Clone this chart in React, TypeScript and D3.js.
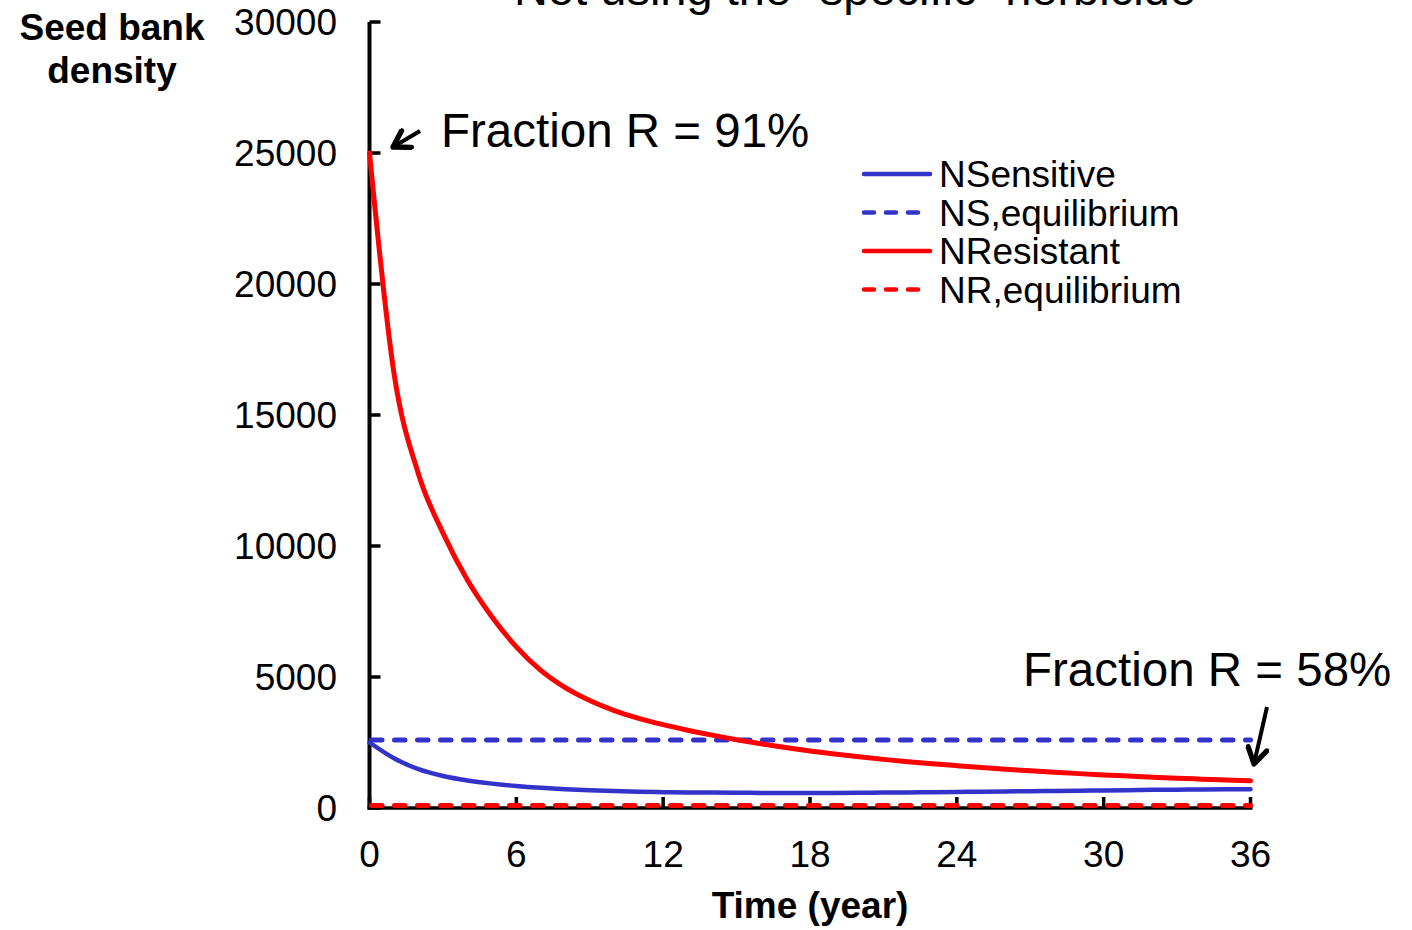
import React from "react";
import * as d3 from "d3";

const years = d3.range(0, 37);
const nResistant = [25000, 16600, 12750, 10500, 8700, 7300, 6150, 5250, 4590, 4100, 3720, 3420, 3180, 2970, 2780, 2608, 2451, 2308, 2178, 2060, 1953, 1856, 1768, 1688, 1615, 1545, 1480, 1420, 1364, 1312, 1264, 1219, 1177, 1138, 1102, 1069, 1038];
const nSensitive = [2500, 1900, 1480, 1220, 1050, 930, 840, 770, 715, 675, 645, 622, 605, 595, 587, 581, 577, 575, 575, 577, 582, 588, 595, 603, 612, 622, 632, 642, 652, 662, 672, 682, 692, 700, 708, 714, 720];
const nsEquilibrium = 2600;
const nrEquilibrium = 100;

const xTicks = [0, 6, 12, 18, 24, 30, 36];
const yTicks = [0, 5000, 10000, 15000, 20000, 25000, 30000];

const legendItems = [
  { label: "NSensitive", color: "#3333cc", dashed: false },
  { label: "NS,equilibrium", color: "#3333cc", dashed: true },
  { label: "NResistant", color: "#ff0000", dashed: false },
  { label: "NR,equilibrium", color: "#ff0000", dashed: true },
];

const titleText = "Not using the \u201Cspecific\u201D herbicide";
const annotStart = "Fraction R = 91%";
const annotEnd = "Fraction R = 58%";

export default function App() {
  const W = 1412, H = 930;
  const x = d3.scaleLinear().domain([0, 36]).range([369.5, 1250.5]);
  const y = d3.scaleLinear().domain([0, 30000]).range([808, 22]);
  const font = "'Liberation Sans', Arial, sans-serif";

  const line = d3
    .line<number>()
    .x((_, i) => x(years[i]))
    .y((d) => y(d))
    .curve(d3.curveMonotoneX);

  const BLUE = "#3333cc";
  const RED = "#ff0000";

  return (
    <svg
      width={W}
      height={H}
      style={{ position: "absolute", left: 0, top: 0, background: "#fff" }}
      fontFamily={font}
    >
      <defs>
        <marker id="ah" viewBox="0 0 10 10" refX="8" refY="5" markerWidth="6" markerHeight="6" orient="auto" markerUnits="strokeWidth">
          <path d="M1.5,1 L8,5 L1.5,9" fill="none" stroke="#000" strokeWidth={2.2} strokeLinecap="round" strokeLinejoin="round" />
        </marker>
      </defs>

      {/* title */}
      <text x={855} y={5} fontSize={47} textAnchor="middle" fill="#000">{titleText}</text>

      {/* y label */}
      <text x={112} y={40} fontSize={37} fontWeight="bold" textAnchor="middle">Seed bank</text>
      <text x={112} y={83} fontSize={37} fontWeight="bold" textAnchor="middle">density</text>

      {/* axes */}
      <line x1={x(0)} x2={x(0)} y1={y(30000)} y2={y(0) + 1.5} stroke="#000" strokeWidth={4} />
      <line x1={x(0) - 2} x2={x(36) + 2} y1={y(0)} y2={y(0)} stroke="#000" strokeWidth={3.5} />
      {yTicks.map((t) => (
        <g key={"y" + t}>
          <line x1={x(0)} x2={x(0) + 11} y1={y(t)} y2={y(t)} stroke="#000" strokeWidth={3.5} />
          <text x={337} y={y(t) + 13} fontSize={37} textAnchor="end">{t}</text>
        </g>
      ))}
      {xTicks.map((t) => (
        <g key={"x" + t}>
          <line x1={x(t)} x2={x(t)} y1={y(0)} y2={y(0) - 11} stroke="#000" strokeWidth={3.5} />
          <text x={x(t)} y={867} fontSize={37} textAnchor="middle">{t}</text>
        </g>
      ))}
      <text x={810} y={918} fontSize={37} fontWeight="bold" textAnchor="middle">Time (year)</text>

      {/* equilibrium lines */}
      <line x1={x(0) + 2} x2={x(36)} y1={y(nsEquilibrium)} y2={y(nsEquilibrium)} stroke={BLUE} strokeWidth={5} strokeDasharray="10.5 12.5" strokeLinecap="round" />
      <line x1={x(0) + 2} x2={x(36)} y1={y(nrEquilibrium)} y2={y(nrEquilibrium)} stroke={RED} strokeWidth={5} strokeDasharray="10.5 12.5" strokeLinecap="round" />

      {/* series */}
      <path d={line(nSensitive) || ""} fill="none" stroke={BLUE} strokeWidth={4.5} strokeLinecap="round" />
      <path d={line(nResistant) || ""} fill="none" stroke={RED} strokeWidth={5} strokeLinecap="round" />

      {/* annotations */}
      <text x={441} y={147} fontSize={47.5}>{annotStart}</text>
      <line x1={420} y1={131} x2={393} y2={147} stroke="#000" strokeWidth={4} markerEnd="url(#ah)" />
      <text x={1023} y={686} fontSize={47.5}>{annotEnd}</text>
      <line x1={1267} y1={707} x2={1254} y2={764} stroke="#000" strokeWidth={4} markerEnd="url(#ah)" />

      {/* legend */}
      {legendItems.map((it, i) => {
        const ly = 174 + i * 38.5;
        return (
          <g key={it.label}>
            <line
              x1={864}
              x2={it.dashed ? 922 : 930}
              y1={ly}
              y2={ly}
              stroke={it.color}
              strokeWidth={4.5}
              strokeLinecap="round"
              strokeDasharray={it.dashed ? "10 12" : undefined}
            />
            <text x={939} y={ly + 13} fontSize={37}>{it.label}</text>
          </g>
        );
      })}
    </svg>
  );
}
